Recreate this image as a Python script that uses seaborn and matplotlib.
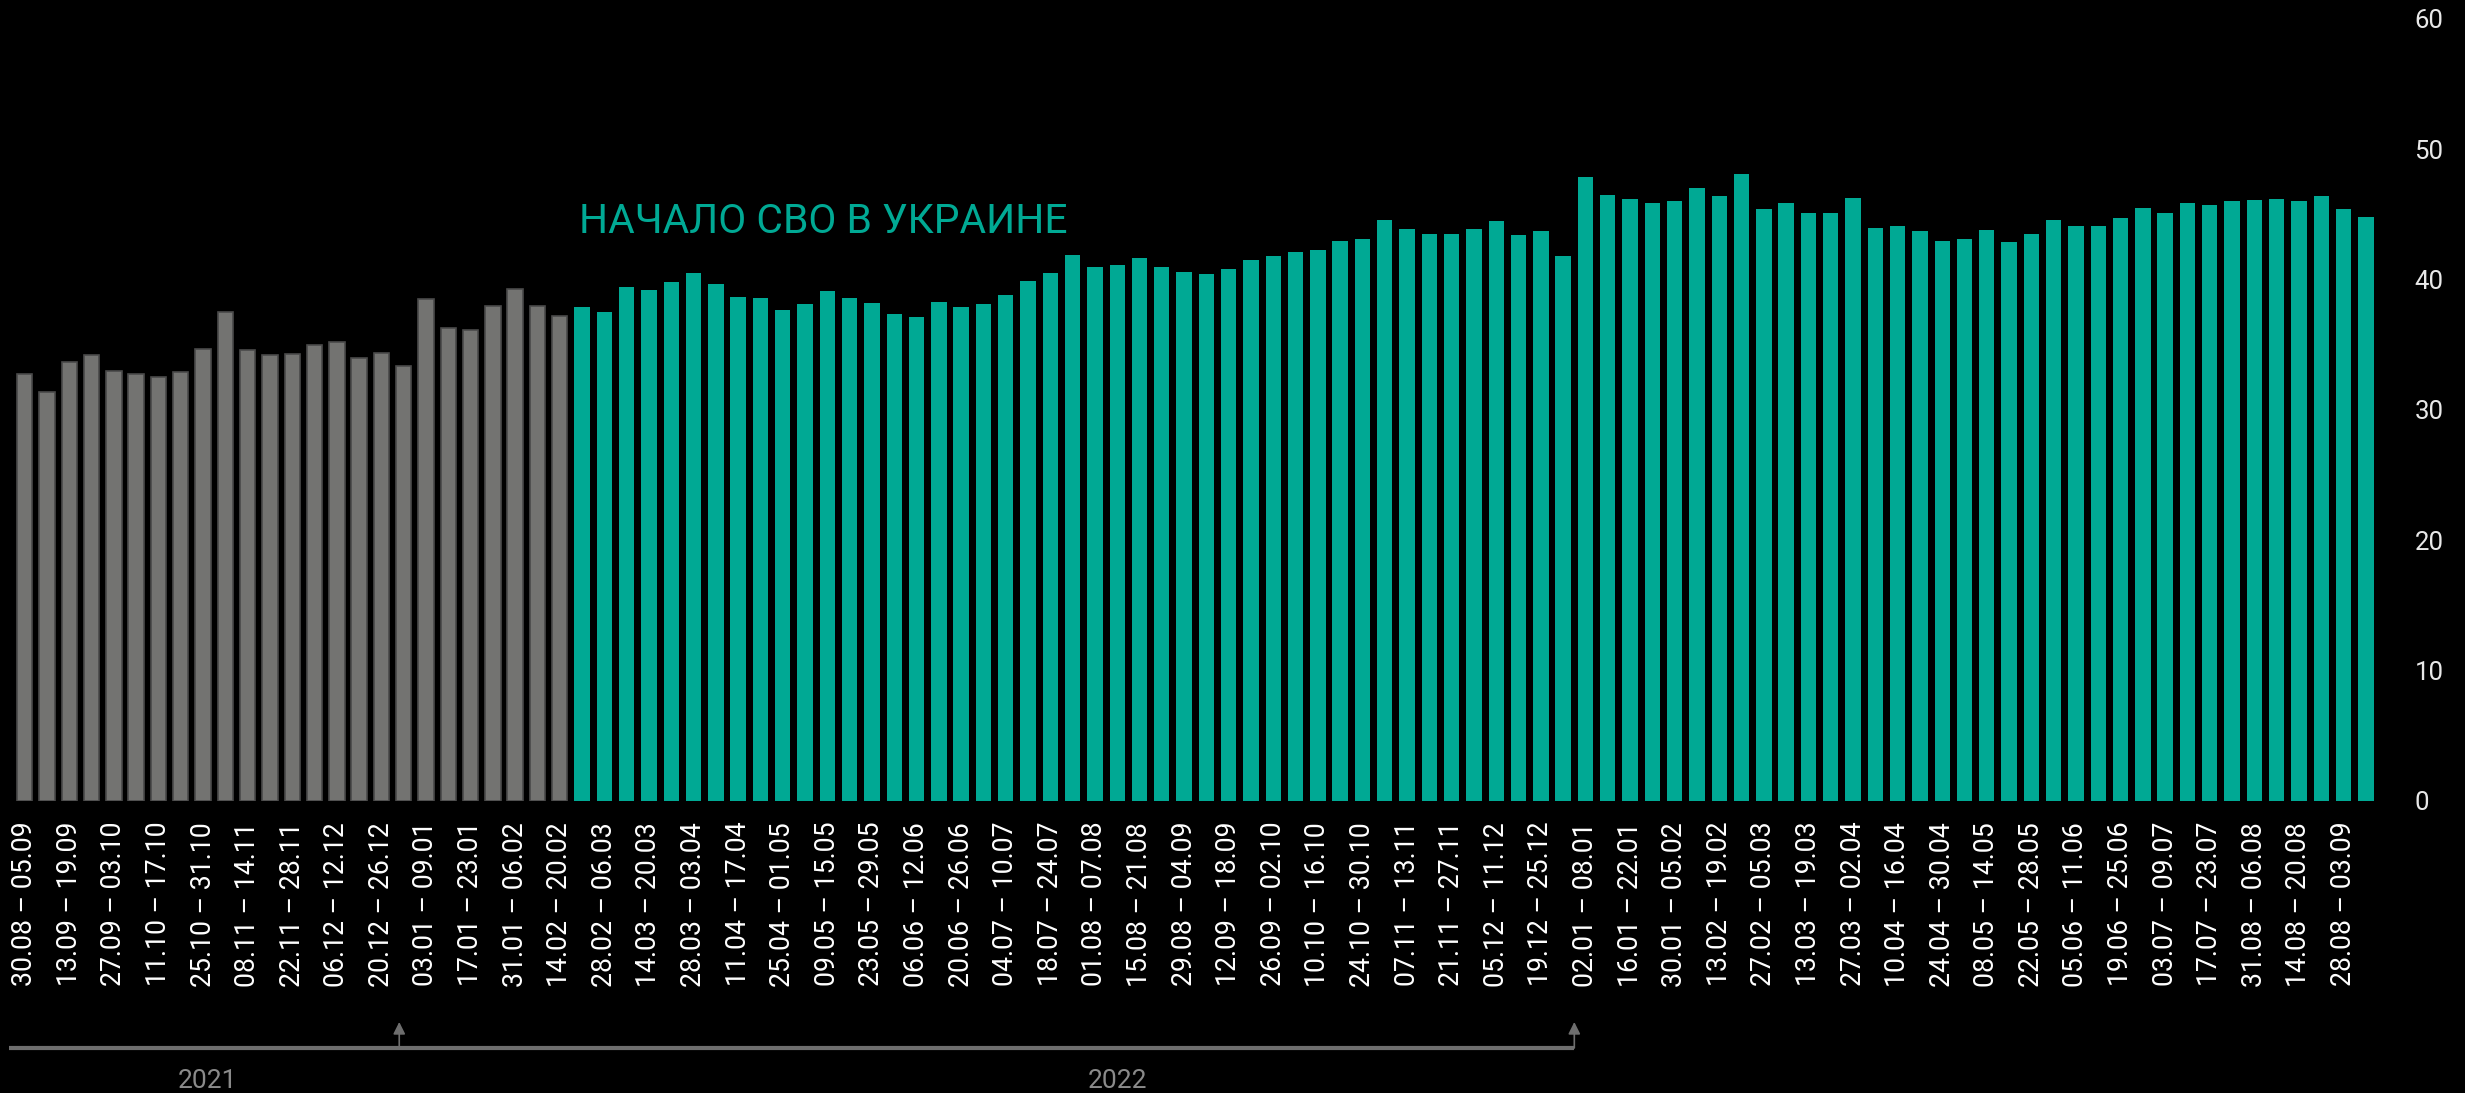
import numpy as np
import pandas as pd
import matplotlib.pyplot as plt
import matplotlib.transforms as mtransforms
import seaborn as sns

# weekly values, one bar per week starting 30.08.2021
values = [32.8, 31.4, 33.7, 34.2, 33.0, 32.8, 32.5, 32.9, 34.7, 37.5,
          34.6, 34.2, 34.3, 35.0, 35.2, 34.0, 34.4, 33.4, 38.5, 36.3,
          36.1, 38.0, 39.3, 38.0, 37.2, 37.9, 37.5, 39.4, 39.2, 39.8,
          40.5, 39.7, 38.7, 38.6, 37.7, 38.1, 39.1, 38.6, 38.2, 37.4,
          37.1, 38.3, 37.9, 38.1, 38.8, 39.9, 40.5, 41.9, 41.0, 41.1,
          41.7, 41.0, 40.6, 40.4, 40.8, 41.5, 41.8, 42.1, 42.3, 43.0,
          43.1, 44.6, 43.9, 43.5, 43.5, 43.9, 44.5, 43.4, 43.7, 41.8,
          47.9, 46.5, 46.2, 45.9, 46.0, 47.0, 46.4, 48.1, 45.4, 45.9,
          45.1, 45.1, 46.3, 44.0, 44.1, 43.7, 43.0, 43.1, 43.8, 42.9,
          43.5, 44.6, 44.1, 44.1, 44.7, 45.5, 45.1, 45.9, 45.7, 46.0,
          46.1, 46.2, 46.0, 46.4, 45.4, 44.8]
n_before = 25  # weeks before 24.02.2022

# every other week is labelled
tick_labels = ["30.08 – 05.09", "13.09 – 19.09", "27.09 – 03.10", "11.10 – 17.10",
               "25.10 – 31.10", "08.11 – 14.11", "22.11 – 28.11", "06.12 – 12.12",
               "20.12 – 26.12", "03.01 – 09.01", "17.01 – 23.01", "31.01 – 06.02",
               "14.02 – 20.02", "28.02 – 06.03", "14.03 – 20.03", "28.03 – 03.04",
               "11.04 – 17.04", "25.04 – 01.05", "09.05 – 15.05", "23.05 – 29.05",
               "06.06 – 12.06", "20.06 – 26.06", "04.07 – 10.07", "18.07 – 24.07",
               "01.08 – 07.08", "15.08 – 21.08", "29.08 – 04.09", "12.09 – 18.09",
               "26.09 – 02.10", "10.10 – 16.10", "24.10 – 30.10", "07.11 – 13.11",
               "21.11 – 27.11", "05.12 – 11.12", "19.12 – 25.12", "02.01 – 08.01",
               "16.01 – 22.01", "30.01 – 05.02", "13.02 – 19.02", "27.02 – 05.03",
               "13.03 – 19.03", "27.03 – 02.04", "10.04 – 16.04", "24.04 – 30.04",
               "08.05 – 14.05", "22.05 – 28.05", "05.06 – 11.06", "19.06 – 25.06",
               "03.07 – 09.07", "17.07 – 23.07", "31.08 – 06.08", "14.08 – 20.08",
               "28.08 – 03.09"]

years = ["2021", "2022"]
year_label_pos = [8.2, 49.0]
year_marks = [16.8, 69.5]

gray = "#737371"
teal = "#00a994"

df = pd.DataFrame({"week": range(len(values)), "value": values})
df["period"] = ["before" if i < n_before else "after" for i in df["week"]]

plt.rcParams["font.family"] = ["Roboto", "DejaVu Sans"]
fig = plt.figure(figsize=(24.65, 10.93), dpi=100, facecolor="black")
ax = fig.add_axes([13.5 / 2465, 292 / 1093, (2377 - 13.5) / 2465, 782 / 1093])
ax.set_facecolor("black")

sns.barplot(data=df, x="week", y="value", hue="period", dodge=False,
            palette={"before": gray, "after": teal}, width=0.69,
            legend=False, ax=ax, saturation=1)
for bar in ax.containers[0]:
    bar.set_edgecolor("#4a4a4a")
    bar.set_linewidth(1.2)

ax.set_xlim(-0.5, len(values) - 0.5)
ax.set_ylim(0, 60)
ax.set_xlabel("")
ax.set_ylabel("")
for s in ax.spines.values():
    s.set_visible(False)

ax.set_xticks(np.arange(0, len(values), 2))
ax.set_xticklabels(tick_labels, rotation=90, ha="center", va="top",
                   fontsize=19.2, color="white")
ax.tick_params(axis="x", length=0, pad=15)

ax.yaxis.tick_right()
ax.set_yticks(range(0, 61, 10))
ax.tick_params(axis="y", length=0, pad=27, labelsize=18.5, labelcolor="#e8e8e8")

fig.text(579 / 2465, (1093 - 233) / 1093, "НАЧАЛО СВО В УКРАИНЕ",
         color=teal, fontsize=29.3, va="baseline", ha="left")

# timeline under the labels
blend = mtransforms.blended_transform_factory(ax.transData, fig.transFigure)
line_y = (1093 - 1048) / 1093
tip_y = (1093 - 1022) / 1093
ax.plot([-0.7, year_marks[-1]], [line_y, line_y], transform=blend,
        color="#6e6e6e", lw=3, clip_on=False, solid_capstyle="butt")
for xm in year_marks:
    ax.annotate("", xy=(xm, tip_y), xytext=(xm, line_y), xycoords=blend,
                textcoords=blend,
                arrowprops=dict(arrowstyle="-|>", color="#6e6e6e", lw=1.2,
                                mutation_scale=18, shrinkA=0, shrinkB=0))
for yr, xp in zip(years, year_label_pos):
    ax.text(xp, (1093 - 1088) / 1093, yr, transform=blend, ha="center",
            va="baseline", fontsize=19, color="#8a8a8a",
            family=["Liberation Sans Narrow", "Roboto", "DejaVu Sans"])

fig.savefig("out.png", dpi=100, facecolor="black")
